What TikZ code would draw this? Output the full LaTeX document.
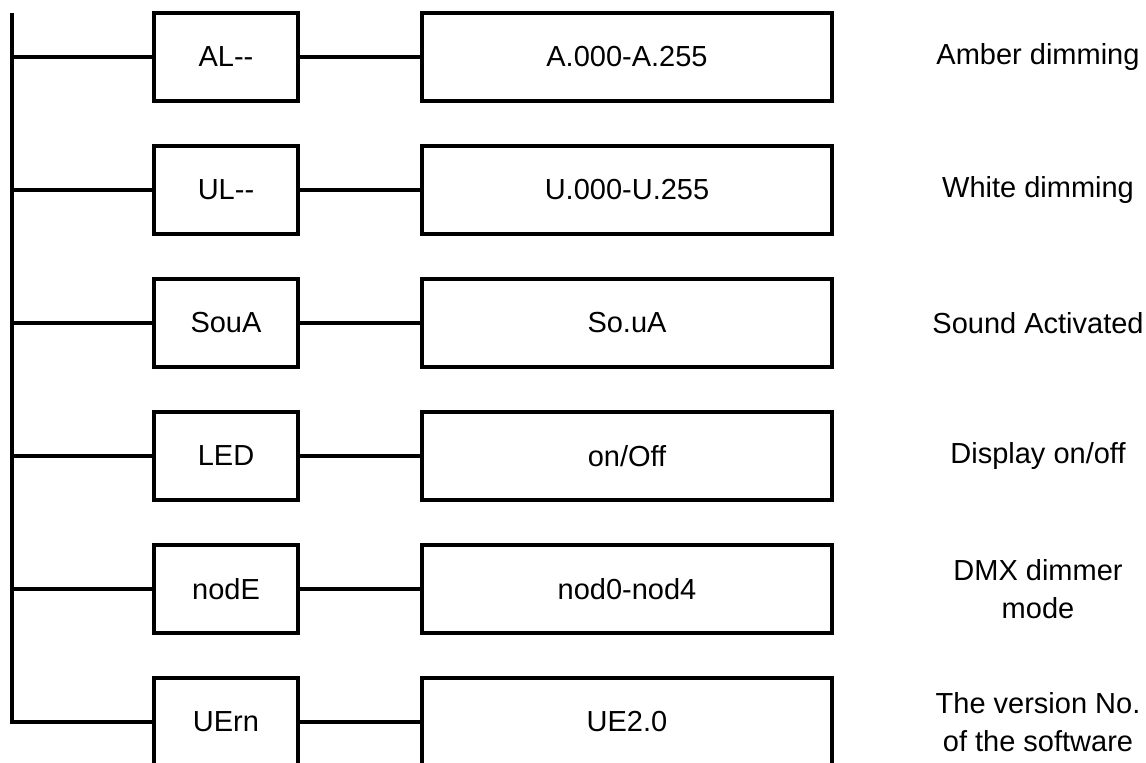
\documentclass[tikz,border=0pt]{standalone}
\usepackage{fontspec}
\setmainfont{Liberation Sans}
\usetikzlibrary{positioning}

\tikzset{
  menubox/.style={draw, line width=1.6pt, minimum width=72pt, minimum height=44pt, inner sep=0pt, outer sep=0pt},
  valuebox/.style={menubox, minimum width=205pt},
  desc/.style={align=center, inner sep=0pt}
}

\begin{document}
\begin{tikzpicture}[font=\fontsize{14.5}{19}\selectfont, line width=1.6pt]
    \useasboundingbox (0,0) rectangle (573pt,-381pt);
    \coordinate (trunk) at (6pt,0);
    % menu entries
    \node [menubox] (al) at (113pt,-28.5pt) {AL{-}{-}};
    \node [menubox, below=22.5pt of al] (ul) {UL{-}{-}};
    \node [menubox, below=22.5pt of ul] (soua) {SouA};
    \node [menubox, below=22.5pt of soua] (led) {LED};
    \node [menubox, below=22.5pt of led] (mode) {nodE};
    \node [menubox, below=22.5pt of mode] (uern) {UErn};
    % values
    \node [valuebox, right=62pt of al] (alval) {A.000-A.255};
    \node [valuebox, right=62pt of ul] (ulval) {U.000-U.255};
    \node [valuebox, right=62pt of soua] (souaval) {So.uA};
    \node [valuebox, right=62pt of led] (ledval) {on/Off};
    \node [valuebox, right=62pt of mode] (modeval) {nod0-nod4};
    \node [valuebox, right=62pt of uern] (uernval) {UE2.0};
    % descriptions
    \node [desc] (aldesc) at ([xshift=103pt]alval.east) {Amber dimming};
    \node [desc] (uldesc) at ([xshift=103pt]ulval.east) {White dimming};
    \node [desc] (souadesc) at ([xshift=103pt]souaval.east) {Sound Activated};
    \node [desc] (leddesc) at ([xshift=103pt]ledval.east) {Display on/off};
    \node [desc] (modedesc) at ([xshift=103pt]modeval.east) {DMX dimmer\\mode};
    \node [desc] (uerndesc) at ([xshift=103pt]uernval.east) {The version No.\\of the software};
    % connectors
    \draw (al.north -| trunk) -- (uern.west -| trunk) -- (uern.west);
    \draw (al.west -| trunk) -- (al.west);
    \draw (ul.west -| trunk) -- (ul.west);
    \draw (soua.west -| trunk) -- (soua.west);
    \draw (led.west -| trunk) -- (led.west);
    \draw (mode.west -| trunk) -- (mode.west);
    \draw (al) -- (alval);
    \draw (ul) -- (ulval);
    \draw (soua) -- (souaval);
    \draw (led) -- (ledval);
    \draw (mode) -- (modeval);
    \draw (uern) -- (uernval);
\end{tikzpicture}
\end{document}
